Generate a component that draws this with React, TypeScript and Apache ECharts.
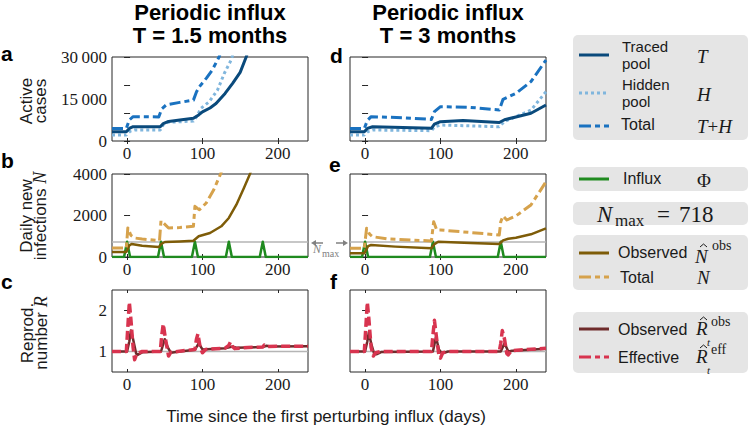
import React, { useEffect, useRef } from 'react';
import * as echarts from 'echarts';

// ---------- ticks ----------
const xTicks = [0, 100, 200];
const activeLabelTicks = [0, 15000, 30000];
const activeTicks = [0, 10000, 20000, 30000];
const dailyTicks = [0, 2000, 4000];
const rTicks = [1, 2];
const nMax = 718;

// ---------- panel a: active cases, T = 1.5 months ----------
const aTraced = [[-20, 3330], [-1, 3330], [3, 4500], [8, 5100], [44, 5100], [48, 6200], [55, 7000], [70, 7500], [88, 8100], [95, 9300], [100, 10400], [110, 11800], [118, 13400], [130, 17000], [140, 20600], [150, 24500], [158, 30000], [165, 36000]];
const aHidden = [[-20, 2140], [-1, 2140], [4, 3500], [10, 3930], [44, 3930], [48, 5800], [54, 6700], [88, 7100], [93, 9000], [98, 11670], [109, 14040], [120, 18200], [129, 24170], [138, 28900], [145, 35000]];
const aTotal = [[-20, 4500], [-1, 4500], [3, 7500], [8, 8700], [42, 8600], [46, 11500], [52, 12900], [70, 13800], [88, 14600], [92, 17500], [96, 19400], [105, 22380], [113, 25350], [122, 30000], [127, 34000]];

// ---------- panel d: active cases, T = 3 months ----------
const dTraced = [[-20, 3330], [-1, 3330], [3, 4500], [10, 5100], [50, 4800], [88, 4520], [92, 6000], [100, 6900], [130, 7300], [178, 6600], [185, 7600], [200, 8600], [220, 9900], [240, 12850]];
const dHidden = [[-20, 2140], [-1, 2140], [4, 3400], [10, 3930], [88, 3690], [92, 5000], [100, 5700], [178, 5100], [185, 7000], [195, 8100], [220, 11000], [240, 17600]];
const dTotal = [[-20, 4500], [-1, 4500], [3, 7300], [8, 8700], [50, 8300], [88, 7700], [92, 10500], [100, 12250], [140, 12000], [178, 11070], [183, 14900], [200, 17000], [220, 21200], [240, 28900]];

// ---------- panel b: daily new infections, T = 1.5 months ----------
const bInflux = [[-20, 0], [-4, 0], [0, 740], [4, 0], [41, 0], [45, 740], [49, 0], [86, 0], [90, 740], [94, 0], [131, 0], [135, 740], [139, 0], [176, 0], [180, 740], [184, 0], [240, 0]];
const bObserved = [[-20, 241], [-1, 241], [3, 560], [6, 627], [20, 540], [42, 482], [46, 650], [50, 723], [70, 750], [88, 786], [95, 997], [110, 1157], [125, 1480], [135, 1880], [145, 2520], [155, 3330], [163, 4000], [170, 4700]];
const bTotal = [[-20, 434], [-1, 434], [1, 1400], [5, 1050], [10, 916], [20, 868], [43, 786], [45, 1750], [48, 1650], [55, 1400], [70, 1420], [88, 1480], [90, 2440], [93, 2350], [96, 2280], [105, 2600], [115, 3240], [124, 4000], [130, 4600]];

// ---------- panel e: daily new infections, T = 3 months ----------
const eInflux = [[-20, 0], [-4, 0], [0, 740], [4, 0], [86, 0], [90, 740], [94, 0], [176, 0], [180, 740], [184, 0], [240, 0]];
const eObserved = [[-20, 178], [-1, 178], [4, 520], [8, 578], [40, 500], [88, 418], [92, 620], [97, 737], [140, 680], [178, 626], [183, 800], [190, 880], [200, 930], [220, 1093], [240, 1383]];
const eTotal = [[-20, 418], [-1, 418], [2, 1383], [6, 1100], [10, 980], [30, 868], [60, 820], [88, 771], [90, 1400], [91, 1700], [95, 1300], [100, 1300], [140, 1180], [178, 1060], [180, 1700], [183, 1976], [188, 1783], [200, 1976], [220, 2506], [240, 3630]];

// ---------- panel c: reproduction number, T = 1.5 months ----------
const cEffective = [[-20, 1], [-1, 1], [1, 1.6], [3, 2.2], [5, 1.8], [8, 1.1], [10, 0.8], [13, 0.95], [20, 1.0], [44, 1.0], [46, 1.4], [48, 1.67], [51, 1.3], [55, 0.89], [58, 0.98], [80, 1.03], [90, 1.05], [92, 1.3], [94, 1.43], [97, 1.1], [100, 0.97], [104, 1.05], [130, 1.08], [135, 1.15], [137, 1.23], [140, 1.12], [143, 1.07], [160, 1.1], [180, 1.11], [182, 1.16], [186, 1.12], [200, 1.13], [240, 1.13]];
const cObserved = [[-20, 1], [0, 1], [3, 1.25], [5, 1.51], [8, 1.3], [12, 0.95], [14, 0.92], [20, 0.98], [45, 1.0], [50, 1.3], [54, 1.1], [58, 0.97], [70, 1.0], [90, 1.04], [95, 1.2], [100, 1.05], [130, 1.08], [140, 1.12], [145, 1.09], [180, 1.11], [185, 1.14], [190, 1.12], [240, 1.13]];

// ---------- panel f: reproduction number, T = 3 months ----------
const fEffective = [[-20, 1], [-1, 1], [1, 1.6], [3, 2.2], [5, 1.8], [8, 1.1], [11, 0.89], [14, 0.97], [20, 1.0], [88, 1.0], [90, 1.4], [92, 1.76], [95, 1.3], [98, 0.9], [100, 0.84], [103, 0.97], [110, 1.0], [178, 1.0], [180, 1.2], [182, 1.51], [185, 1.3], [188, 0.95], [190, 0.92], [194, 1.02], [240, 1.08]];
const fObserved = [[-20, 1], [0, 1], [3, 1.25], [5, 1.47], [8, 1.2], [12, 0.95], [15, 0.93], [22, 0.99], [90, 1.0], [94, 1.35], [98, 1.05], [102, 0.95], [110, 1.0], [180, 1.0], [185, 1.2], [190, 1.0], [195, 1.02], [240, 1.07]];

const C = {
  traced: '#0a4a7c',
  hidden: '#80b6dd',
  total: '#1a72c0',
  influx: '#1f8a1f',
  obsN: '#7e5c08',
  totN: '#d6a24c',
  obsR: '#6e2b2b',
  effR: '#d8344f',
  ref: '#b5b5b5',
  axis: '#262626',
  legendBg: '#e5e5e5',
};

const SANS = '"Liberation Sans", Arial, sans-serif';
const SERIF = '"Liberation Serif", "Times New Roman", serif';

export default function App() {
  const ref = useRef<HTMLDivElement>(null);
  useEffect(() => {
    document.body.style.margin = '0';
    const chart = echarts.init(ref.current!, null, { renderer: 'svg' });

    const cols = [112, 350];
    const rows = [
      { top: 57, height: 84 },
      { top: 174, height: 83 },
      { top: 290, height: 82 },
    ];
    const grids: any[] = [];
    const xAxes: any[] = [];
    const yAxes: any[] = [];
    const rowY = [
      { min: 0, max: 30000, labels: activeLabelTicks, ticks: activeTicks, fmt: (v: number) => (v >= 10000 ? String(Math.floor(v / 1000)) + '\u2009' + '000' : String(v)) },
      { min: 0, max: 4000, labels: dailyTicks, ticks: dailyTicks, fmt: (v: number) => String(v) },
      { min: 0.5, max: 2.5, labels: rTicks, ticks: rTicks, fmt: (v: number) => String(v) },
    ];
    const tickStyle = { color: C.axis, width: 1 };
    // grid order: a, b, c, d, e, f
    for (let col = 0; col < 2; col++) {
      for (let r = 0; r < 3; r++) {
        const g = grids.length;
        grids.push({
          left: cols[col], top: rows[r].top, width: 196, height: rows[r].height,
          show: true, borderColor: C.axis, borderWidth: 1, backgroundColor: '#fff', containLabel: false,
        });
        for (const pos of ['bottom', 'top']) {
          xAxes.push({
            type: 'value', gridIndex: g, min: -20, max: 240, position: pos,
            axisLine: { show: false }, splitLine: { show: false },
            axisTick: { show: true, inside: true, length: 3, customValues: xTicks, lineStyle: tickStyle },
            axisLabel: {
              show: pos === 'bottom', customValues: xTicks, margin: 4,
              fontFamily: SERIF, fontSize: 17, color: '#1a1a1a',
            },
          });
        }
        const yy = rowY[r];
        for (const pos of ['left', 'right']) {
          yAxes.push({
            type: 'value', gridIndex: g, min: yy.min, max: yy.max, position: pos,
            axisLine: { show: false }, splitLine: { show: false },
            axisTick: { show: true, inside: true, length: 3, customValues: yy.ticks, lineStyle: tickStyle },
            axisLabel: {
              show: pos === 'left' && col === 0, customValues: yy.labels, margin: 5,
              fontFamily: SERIF, fontSize: 17, color: '#1a1a1a', formatter: yy.fmt,
            },
          });
        }
      }
    }

    const line = (g: number, data: number[][], color: string, width: number, type: any = 'solid', z = 2) => ({
      type: 'line', xAxisIndex: 2 * g, yAxisIndex: 2 * g, data, showSymbol: false, symbol: 'none',
      silent: true, z, clip: true,
      lineStyle: { color, width, type, cap: 'butt', join: 'round' },
    });
    const dashDot = [11, 4, 5, 4];
    const dotted = [3, 3];
    const dashed = [9, 4];

    const series: any[] = [
      // a (grid 0)
      line(0, aHidden, C.hidden, 3, dotted, 2),
      line(0, aTraced, C.traced, 3, 'solid', 3),
      line(0, aTotal, C.total, 3, dashDot, 4),
      // b (grid 1)
      line(1, [[-20, nMax], [240, nMax]], C.ref, 1.5, 'solid', 1),
      line(1, bInflux, C.influx, 2.5, 'solid', 2),
      line(1, bObserved, C.obsN, 2.5, 'solid', 3),
      line(1, bTotal, C.totN, 3, dashDot, 4),
      // c (grid 2)
      line(2, [[-20, 1], [240, 1]], C.ref, 1.5, 'solid', 1),
      line(2, cObserved, C.obsR, 2.5, 'solid', 2),
      line(2, cEffective, C.effR, 3.5, dashed, 3),
      // d (grid 3)
      line(3, dHidden, C.hidden, 3, dotted, 2),
      line(3, dTraced, C.traced, 3, 'solid', 3),
      line(3, dTotal, C.total, 3, dashDot, 4),
      // e (grid 4)
      line(4, [[-20, nMax], [240, nMax]], C.ref, 1.5, 'solid', 1),
      line(4, eInflux, C.influx, 2.5, 'solid', 2),
      line(4, eObserved, C.obsN, 2.5, 'solid', 3),
      line(4, eTotal, C.totN, 3, dashDot, 4),
      // f (grid 5)
      line(5, [[-20, 1], [240, 1]], C.ref, 1.5, 'solid', 1),
      line(5, fObserved, C.obsR, 2.5, 'solid', 2),
      line(5, fEffective, C.effR, 3.5, dashed, 3),
    ];

    const txt = (x: number, y: number, text: string, o: any = {}) => ({
      type: 'text', x, y, rotation: o.rotation || 0, z: 10,
      style: {
        text, fill: o.fill || '#1a1a1a',
        fontFamily: o.family || SANS, fontSize: o.size || 16,
        fontWeight: o.weight || 'normal', fontStyle: o.style || 'normal',
        align: o.align || 'left', verticalAlign: o.va || 'middle',
        textAlign: o.align || 'left', textVerticalAlign: o.va || 'middle',
        lineHeight: o.lh, rich: o.rich,
      },
    });
    const seg = (x1: number, y1: number, x2: number, y2: number, color: string, width: number, dash?: number[]) => ({
      type: 'line', z: 10, shape: { x1, y1, x2, y2 },
      style: { stroke: color, lineWidth: width, lineDash: dash, lineCap: 'butt' },
    });
    const box = (y: number, h: number) => ({
      type: 'rect', z: 5, shape: { x: 573, y, width: 175, height: h, r: 5 }, style: { fill: C.legendBg },
    });
    const hat = (x: number, y: number) => ({
      type: 'polyline', z: 10, shape: { points: [[x, y + 3], [x + 3.5, y], [x + 7, y + 3]] },
      style: { stroke: '#1a1a1a', lineWidth: 1, fill: 'none' },
    });

    const graphic: any[] = [
      // titles
      txt(210, 1, 'Periodic influx', { size: 22, weight: 'bold', align: 'center', va: 'top', fill: '#000' }),
      txt(210, 24, 'T = 1.5 months', { size: 22, weight: 'bold', align: 'center', va: 'top', fill: '#000' }),
      txt(448, 1, 'Periodic influx', { size: 22, weight: 'bold', align: 'center', va: 'top', fill: '#000' }),
      txt(448, 24, 'T = 3 months', { size: 22, weight: 'bold', align: 'center', va: 'top', fill: '#000' }),
      // panel letters
      txt(1, 53, 'a', { size: 21, weight: 'bold', fill: '#000' }),
      txt(1, 160, 'b', { size: 21, weight: 'bold', fill: '#000' }),
      txt(1, 281, 'c', { size: 21, weight: 'bold', fill: '#000' }),
      txt(330, 55, 'd', { size: 21, weight: 'bold', fill: '#000' }),
      txt(329, 164, 'e', { size: 21, weight: 'bold', fill: '#000' }),
      txt(330, 281, 'f', { size: 21, weight: 'bold', fill: '#000' }),
      // y titles
      txt(33, 101, 'Active\ncases', { size: 17, align: 'center', rotation: Math.PI / 2, lh: 14 }),
      txt(33, 216, '{s|Daily new}\n{s|infections }{m|N}', {
        align: 'center', rotation: Math.PI / 2,
        rich: {
          s: { fontFamily: SANS, fontSize: 17, lineHeight: 14, fill: '#1a1a1a' },
          m: { fontFamily: SERIF, fontStyle: 'italic', fontSize: 18, lineHeight: 14, fill: '#1a1a1a' },
        },
      }),
      txt(34, 333, '{s|Reprod.}\n{s|number }{m|R}', {
        align: 'center', rotation: Math.PI / 2,
        rich: {
          s: { fontFamily: SANS, fontSize: 17, lineHeight: 14, fill: '#1a1a1a' },
          m: { fontFamily: SERIF, fontStyle: 'italic', fontSize: 18, lineHeight: 14, fill: '#1a1a1a' },
        },
      }),
      // x title
      txt(326, 416, 'Time since the first perturbing influx (days)', { size: 17, align: 'center' }),
      // N_max annotation
      seg(315, 243, 323, 243, '#808080', 1.5),
      { type: 'polygon', z: 10, shape: { points: [[311, 243], [316, 240], [316, 246]] }, style: { fill: '#808080' } },
      seg(336, 243, 344, 243, '#808080', 1.5),
      { type: 'polygon', z: 10, shape: { points: [[348, 243], [343, 240], [343, 246]] }, style: { fill: '#808080' } },
      txt(313, 249, 'N', { family: SERIF, style: 'italic', size: 12, fill: '#808080' }),
      txt(322, 253, 'max', { family: SERIF, size: 10, fill: '#808080' }),

      // legend box 1
      box(35, 105),
      seg(579, 55, 609, 55, C.traced, 3),
      txt(622, 46, 'Traced', { size: 15 }),
      txt(622, 63, 'pool', { size: 15 }),
      txt(697, 56, 'T', { family: SERIF, style: 'italic', size: 19 }),
      seg(579, 93, 609, 93, C.hidden, 3, [3, 3]),
      txt(622, 84, 'Hidden', { size: 15 }),
      txt(622, 101, 'pool', { size: 15 }),
      txt(697, 94, 'H', { family: SERIF, style: 'italic', size: 19 }),
      seg(579, 126, 609, 126, C.total, 3, [12, 4, 5, 4]),
      txt(621, 124, 'Total', { size: 16 }),
      txt(697, 126, '{m|T}{p|+}{m|H}', {
        rich: {
          m: { fontFamily: SERIF, fontStyle: 'italic', fontSize: 19, fill: '#1a1a1a' },
          p: { fontFamily: SERIF, fontSize: 19, fill: '#1a1a1a' },
        },
      }),
      // legend box 2
      box(167, 24),
      seg(579, 179, 609, 179, C.influx, 3),
      txt(623, 178, 'Influx', { size: 16 }),
      txt(697, 180, 'Φ', { family: SERIF, size: 19 }),
      // legend box 3
      box(202, 23),
      txt(597, 214, 'N', { family: SERIF, style: 'italic', size: 23 }),
      txt(615, 220, 'max', { family: SERIF, size: 17 }),
      txt(657, 214, '=', { family: SERIF, size: 23 }),
      txt(679, 214, '718', { family: SERIF, size: 23 }),
      // legend box 4
      box(235, 55),
      seg(579, 253, 609, 253, C.obsN, 3),
      txt(618, 252, 'Observed', { size: 16 }),
      hat(700, 244),
      txt(695, 256, 'N', { family: SERIF, style: 'italic', size: 19 }),
      txt(712, 245, 'obs', { family: SERIF, size: 14 }),
      seg(579, 277, 609, 277, C.totN, 3, [12, 4, 5, 4]),
      txt(620, 277, 'Total', { size: 16 }),
      txt(697, 277, 'N', { family: SERIF, style: 'italic', size: 19 }),
      // legend box 5
      box(312, 61),
      seg(579, 329, 609, 329, C.obsR, 3),
      txt(618, 329, 'Observed', { size: 16 }),
      hat(700, 317),
      txt(696, 328, 'R', { family: SERIF, style: 'italic', size: 19 }),
      txt(707, 342, 't', { family: SERIF, style: 'italic', size: 11 }),
      txt(711, 321, 'obs', { family: SERIF, size: 14 }),
      seg(579, 357, 609, 357, C.effR, 3, [12, 4, 5, 4]),
      txt(618, 357, 'Effective', { size: 16 }),
      hat(700, 345),
      txt(696, 356, 'R', { family: SERIF, style: 'italic', size: 19 }),
      txt(707, 370, 't', { family: SERIF, style: 'italic', size: 11 }),
      txt(711, 349, 'eff', { family: SERIF, size: 14 }),
    ];

    chart.setOption({
      animation: false,
      backgroundColor: '#fff',
      grid: grids,
      xAxis: xAxes,
      yAxis: yAxes,
      series,
      graphic,
    });
    return () => chart.dispose();
  }, []);
  return <div ref={ref} style={{ width: 749, height: 428 }} />;
}
